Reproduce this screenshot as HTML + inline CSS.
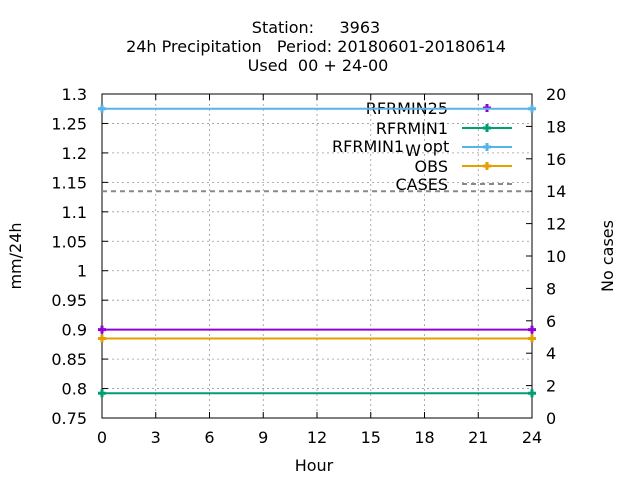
<!DOCTYPE html>
<html><head><meta charset="utf-8"><style>body{margin:0;background:#fff}svg{display:block;font-family:"DejaVu Sans","Liberation Sans",sans-serif}text{white-space:pre}</style></head>
<body>
<svg id="c" width="640" height="480"></svg>
<script>
const xTicks=[0,3,6,9,12,15,18,21,24];
const yTicks=[0.75,0.8,0.85,0.9,0.95,1,1.05,1.1,1.15,1.2,1.25,1.3];
const yTickLabels=["0.75","0.8","0.85","0.9","0.95","1","1.05","1.1","1.15","1.2","1.25","1.3"];
const y2Ticks=[0,2,4,6,8,10,12,14,16,18,20];
const hours=[0,24];
const rfrmin25=[0.9,0.9];
const rfrmin1=[0.792,0.792];
const rfrmin1w=[1.275,1.275];
const obs=[0.885,0.885];
const cases=[14,14];
const L=102,R=532,T=94,B=418;
const X=v=>L+(v-0)/24*(R-L);
const Y=v=>B-(v-0.75)/(1.3-0.75)*(B-T);
const Y2=v=>B-v/20*(B-T);
const s=document.getElementById('c');const NS='http://www.w3.org/2000/svg';
function el(t,a,p){const e=document.createElementNS(NS,t);for(const k in a)e.setAttribute(k,a[k]);(p||s).appendChild(e);return e;}
function txt(x,y,str,anchor,name,extra){const e=el('text',Object.assign({x:x,y:y,'font-size':16,'text-anchor':anchor||'middle',fill:'#000'},extra||{}));e.textContent=str;


return e;}
txt(316,33,"Station:     3963","middle","title-station");
txt(316,52,"24h Precipitation   Period: 20180601-20180614","middle","title-period");
txt(318,71,"Used  00 + 24-00","middle","title-used");
xTicks.forEach(v=>{if(v>0&&v<24){const g=el('line',{x1:X(v),x2:X(v),y1:T,y2:B,stroke:'#999','stroke-dasharray':'2,3','stroke-width':0.8});

}
const t=el('line',{x1:X(v),x2:X(v),y1:B,y2:B-6,stroke:'#000'});
const t2=el('line',{x1:X(v),x2:X(v),y1:T,y2:T+6,stroke:'#000'});
txt(X(v),443,String(v),'middle','x-tick-label');});
yTicks.forEach((v,i)=>{if(i>0&&i<yTicks.length-1){const g=el('line',{x1:L,x2:R,y1:Y(v),y2:Y(v),stroke:'#999','stroke-dasharray':'2,3','stroke-width':0.8});

}
const t=el('line',{x1:L,x2:L+6,y1:Y(v),y2:Y(v),stroke:'#000'});
txt(87,Y(v)+6,yTickLabels[i],'end','y-tick-label');});
y2Ticks.forEach(v=>{const t=el('line',{x1:R,x2:R-6,y1:Y2(v),y2:Y2(v),stroke:'#000'});
txt(546,Y2(v)+6,String(v),'start','y2-tick-label');});
const box=el('rect',{x:L,y:T,width:R-L,height:B-T,fill:'none',stroke:'#000'});

txt(21,256,"mm/24h","middle","y-axis-title",{transform:'rotate(-90 21 256)'});
txt(613,256,"No cases","middle","y2-axis-title",{transform:'rotate(-90 613 256)'});
txt(314,471,"Hour","middle","x-axis-title");
function pt(x,y,c,name){const p=el('path',{d:`M${x-4},${y}h8M${x},${y-4}v8`,stroke:c,'stroke-width':3});}
const leg=[["RFRMIN25","#9400d3",108,false],["RFRMIN1","#009e73",128,false],["RFRMIN1","#56b4e9",147,false],["OBS","#e69f00",166,false],["CASES","#888",184,true]];
function series(vals,yf,c,name,dash){const pts=hours.map((h,i)=>X(h)+','+yf(vals[i])).join(' ');
const l=el('polyline',{points:pts,fill:'none',stroke:c,'stroke-width':2,'stroke-dasharray':dash?'5,4':'none'});

if(!dash)hours.forEach((h,i)=>pt(X(h),yf(vals[i]),c,name+'-point'));}
leg.forEach((g,i)=>{if(i===2){const t=txt(332,g[2]+5,"RFRMIN1","start","legend-label");const w=el('tspan',{dy:4,dx:1},t);w.textContent="W";const o=el('tspan',{dy:-4,dx:3},t);o.textContent="opt";}
else txt(448,g[2]+6,g[0],'end','legend-label');
if(i>0){const l=el('line',{x1:462,x2:512,y1:g[2],y2:g[2],stroke:g[1],'stroke-width':2,'stroke-dasharray':g[3]?'5,4':'none'});
}
if(!g[3])pt(487,g[2],g[1],'legend-point');});
series(cases,Y2,'#888','cases-line',true);
series(rfrmin1,Y,'#009e73','rfrmin1-line');
series(obs,Y,'#e69f00','obs-line');
series(rfrmin25,Y,'#9400d3','rfrmin25-line');
series(rfrmin1w,Y,'#56b4e9','rfrmin1w-opt-line');
</script>
</body></html>
